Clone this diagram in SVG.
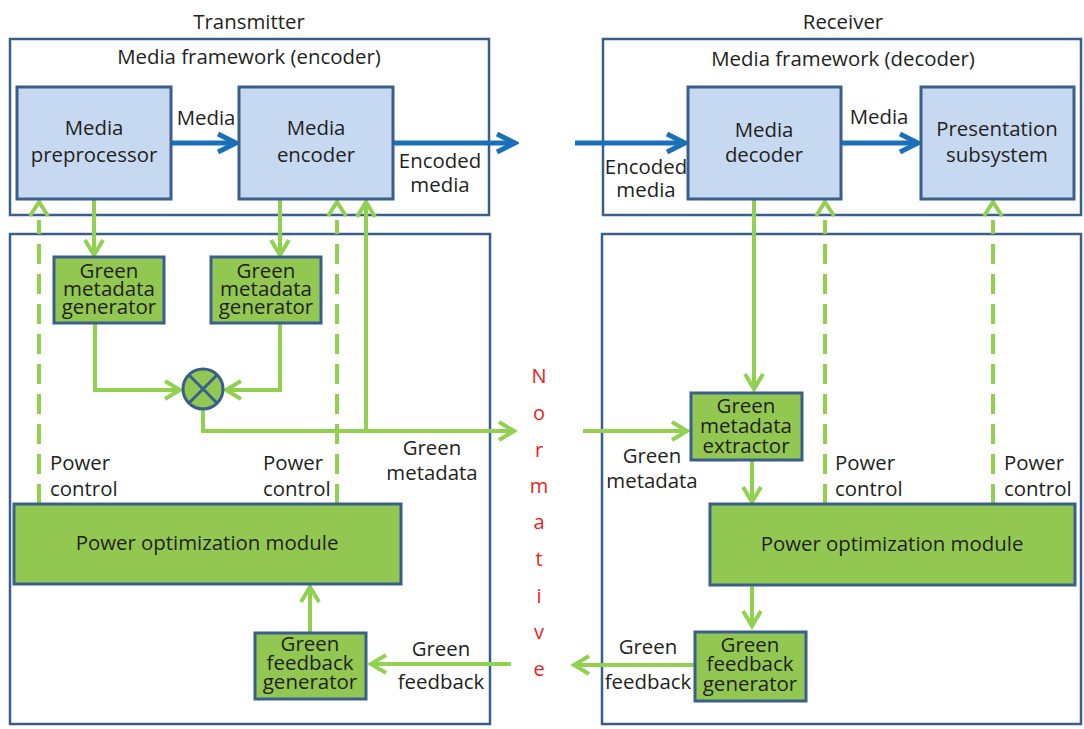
<svg xmlns="http://www.w3.org/2000/svg" width="1084" height="729" viewBox="0 0 1084 729">
<defs>
<style>
text{font-family:"Open Sans","Liberation Sans",sans-serif;font-size:20.4px;fill:#231f20;text-anchor:middle}
.s{font-size:20.5px}
.l{text-anchor:start}
.red{fill:#ed1c24;font-size:20px}
.frame{fill:none;stroke:#3a5f8d;stroke-width:2.5}
.blue{fill:#c6d9f0;stroke:#3a5f8d;stroke-width:3}
.grn{fill:#92c852;stroke:#3a5f8d;stroke-width:3}
.gl{fill:none;stroke:#92d050;stroke-width:4}
.gd{fill:none;stroke:#92d050;stroke-width:4;stroke-dasharray:20 10}
.bl{fill:none;stroke:#1a70b8;stroke-width:5}
</style>
<marker id="ga" markerUnits="userSpaceOnUse" viewBox="-20 -12 24 24" markerWidth="24" markerHeight="24" refX="0" refY="0" orient="auto">
<path d="M-15,-9 L0,0 L-15,9" fill="none" stroke="#92d050" stroke-width="4"/>
</marker>
<marker id="ba" markerUnits="userSpaceOnUse" viewBox="-24 -14 28 28" markerWidth="28" markerHeight="28" refX="0" refY="0" orient="auto">
<path d="M-18,-9 L0,0 L-18,9" fill="none" stroke="#1a70b8" stroke-width="5"/>
</marker>
</defs>
<rect width="1084" height="729" fill="#fff"/>

<g id="frames">
<text x="249" y="29">Transmitter</text>
<text x="843" y="29">Receiver</text>
<rect id="tx-framework" class="frame" x="10" y="39" width="479" height="176"/>
<text x="249" y="64">Media framework (encoder)</text>
<rect id="tx-lower" class="frame" x="10" y="234" width="480" height="490"/>
<rect id="rx-framework" class="frame" x="603" y="39" width="478" height="176"/>
<text x="843" y="66">Media framework (decoder)</text>
<rect id="rx-lower" class="frame" x="602" y="234" width="479" height="490"/>
</g>

<g id="connectors">
<line class="bl" x1="171" y1="143" x2="236" y2="143" marker-end="url(#ba)"/>
<line class="bl" x1="393" y1="143" x2="515" y2="143" marker-end="url(#ba)"/>
<line class="bl" x1="575" y1="143" x2="685" y2="143" marker-end="url(#ba)"/>
<line class="bl" x1="841" y1="143" x2="918" y2="143" marker-end="url(#ba)"/>
<line class="gl" x1="94" y1="199" x2="94" y2="255" marker-end="url(#ga)"/>
<line class="gl" x1="280" y1="199" x2="280" y2="255" marker-end="url(#ga)"/>
<polyline class="gl" points="95,323 95,390 180,390" marker-end="url(#ga)"/>
<polyline class="gl" points="280,323 280,390 226,390" marker-end="url(#ga)"/>
<polyline class="gl" points="203,410 203,431 514,431" marker-end="url(#ga)"/>
<line class="gl" x1="366" y1="431" x2="366" y2="202" marker-end="url(#ga)"/>
<line class="gd" x1="39" y1="504" x2="39" y2="220"/>
<polyline class="gl" points="30,216 39,202 48,216"/>
<line class="gd" x1="337" y1="504" x2="337" y2="220"/>
<polyline class="gl" points="328,216 337,202 346,216"/>
<line class="gl" x1="310" y1="633" x2="310" y2="587" marker-end="url(#ga)"/>
<line class="gl" x1="511" y1="664" x2="371" y2="664" marker-end="url(#ga)"/>
<line class="gl" x1="583" y1="431" x2="687" y2="431" marker-end="url(#ga)"/>
<line class="gl" x1="754" y1="199" x2="754" y2="389" marker-end="url(#ga)"/>
<line class="gl" x1="752" y1="460" x2="752" y2="502" marker-end="url(#ga)"/>
<line class="gl" x1="752" y1="585" x2="752" y2="626" marker-end="url(#ga)"/>
<line class="gl" x1="695" y1="665" x2="574" y2="665" marker-end="url(#ga)"/>
<line class="gd" x1="825" y1="504" x2="825" y2="220"/>
<polyline class="gl" points="816,216 825,202 834,216"/>
<line class="gd" x1="993" y1="504" x2="993" y2="220"/>
<polyline class="gl" points="984,216 993,202 1002,216"/>
</g>

<g id="labels">
<text x="206" y="125">Media</text>
<text x="440" y="168">Encoded</text>
<text x="440" y="192">media</text>
<text x="646" y="174">Encoded</text>
<text x="646" y="197">media</text>
<text x="879" y="124">Media</text>
<text class="l" x="50" y="470">Power</text>
<text class="l" x="50" y="496">control</text>
<text class="l" x="263" y="470">Power</text>
<text class="l" x="263" y="496">control</text>
<text x="432" y="455">Green</text>
<text x="432" y="480">metadata</text>
<text x="652" y="463">Green</text>
<text x="652" y="488">metadata</text>
<text class="l" x="835" y="470">Power</text>
<text class="l" x="835" y="496">control</text>
<text class="l" x="1004" y="470">Power</text>
<text class="l" x="1004" y="496">control</text>
<text x="441" y="656">Green</text>
<text x="441" y="689">feedback</text>
<text x="648" y="654">Green</text>
<text x="648" y="689">feedback</text>
</g>

<g id="normative">
<text class="red" x="539" y="383">N</text>
<text class="red" x="539" y="420">o</text>
<text class="red" x="539" y="457">r</text>
<text class="red" x="539" y="493">m</text>
<text class="red" x="539" y="529">a</text>
<text class="red" x="539" y="566">t</text>
<text class="red" x="539" y="603">i</text>
<text class="red" x="539" y="639">v</text>
<text class="red" x="539" y="676">e</text>
</g>

<g id="media-preprocessor">
<rect class="blue" x="17" y="87" width="154" height="112"/>
<text x="94" y="135">Media</text>
<text x="94" y="162">preprocessor</text>
</g>
<g id="media-encoder">
<rect class="blue" x="239" y="87" width="154" height="112"/>
<text x="316" y="135">Media</text>
<text x="316" y="162">encoder</text>
</g>
<g id="media-decoder">
<rect class="blue" x="688" y="87" width="153" height="112"/>
<text x="764" y="137">Media</text>
<text x="764" y="162">decoder</text>
</g>
<g id="presentation-subsystem">
<rect class="blue" x="921" y="87" width="153" height="112"/>
<text x="997" y="136">Presentation</text>
<text x="997" y="162">subsystem</text>
</g>
<g id="green-metadata-generator-1">
<rect class="grn" x="54" y="257" width="110" height="66"/>
<text class="s" x="109" y="278">Green</text>
<text class="s" x="109" y="296">metadata</text>
<text class="s" x="109" y="314">generator</text>
</g>
<g id="green-metadata-generator-2">
<rect class="grn" x="211" y="257" width="110" height="66"/>
<text class="s" x="266" y="278">Green</text>
<text class="s" x="266" y="296">metadata</text>
<text class="s" x="266" y="314">generator</text>
</g>
<g id="combiner">
<circle cx="203" cy="389" r="20" fill="#92c852" stroke="#3a5f8d" stroke-width="3"/>
<path d="M189,375 L217,403 M217,375 L189,403" stroke="#3a5f8d" stroke-width="3"/>
</g>
<g id="tx-power-optimization-module">
<rect class="grn" x="14" y="504" width="387" height="80"/>
<text x="207" y="550">Power optimization module</text>
</g>
<g id="tx-green-feedback-generator">
<rect class="grn" x="255" y="633" width="111" height="66"/>
<text class="s" x="310" y="651">Green</text>
<text class="s" x="310" y="670">feedback</text>
<text class="s" x="310" y="689">generator</text>
</g>
<g id="green-metadata-extractor">
<rect class="grn" x="691" y="393" width="111" height="67"/>
<text class="s" x="746" y="413">Green</text>
<text class="s" x="746" y="433">metadata</text>
<text class="s" x="746" y="453">extractor</text>
</g>
<g id="rx-power-optimization-module">
<rect class="grn" x="710" y="504" width="365" height="81"/>
<text x="892" y="551">Power optimization module</text>
</g>
<g id="rx-green-feedback-generator">
<rect class="grn" x="695" y="632" width="111" height="69"/>
<text class="s" x="750" y="652">Green</text>
<text class="s" x="750" y="671">feedback</text>
<text class="s" x="750" y="691">generator</text>
</g>
</svg>
